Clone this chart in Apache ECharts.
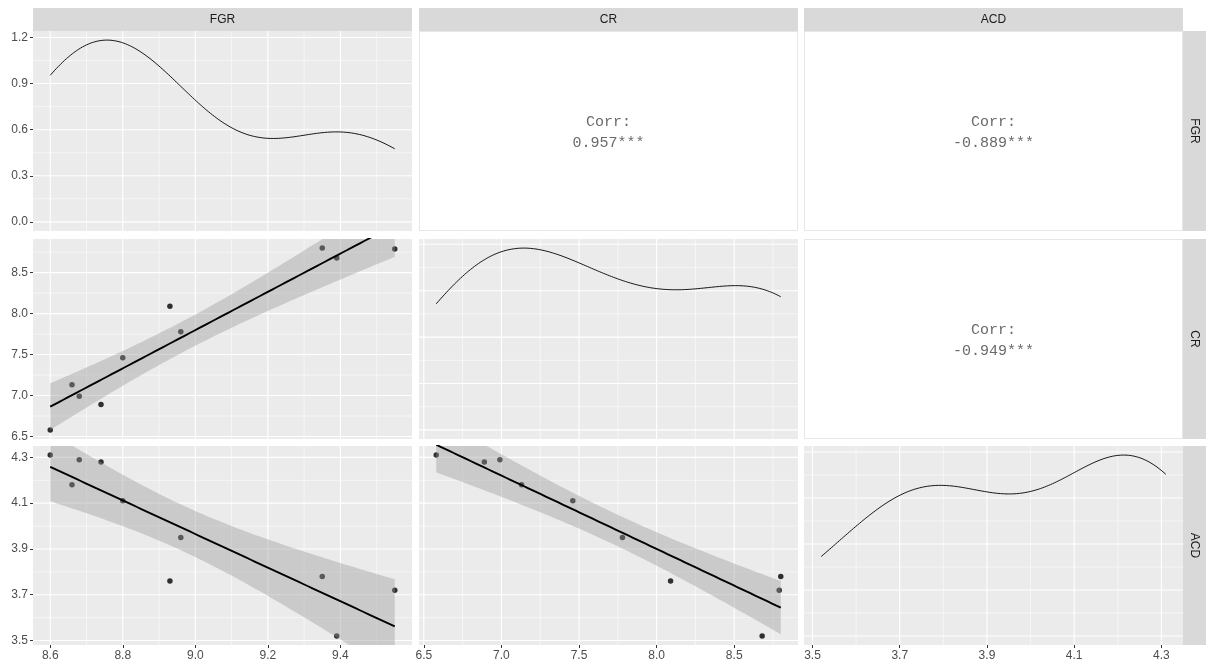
<!DOCTYPE html>
<html>
<head>
<meta charset="utf-8">
<script src="https://cdn.jsdelivr.net/npm/echarts@6/dist/echarts.min.js"></script>
<style>
  html, body { margin: 0; padding: 0; background: #ffffff; }
  #chart { width: 1206px; height: 667px; }
</style>
</head>
<body>
<div id="chart"></div>
<script>
// ---- data -------------------------------------------------------------
const variables = ['FGR', 'CR', 'ACD'];
const FGR = [8.60, 8.66, 8.68, 8.74, 8.80, 8.93, 8.96, 9.35, 9.39, 9.55];
const CR  = [6.58, 7.13, 6.99, 6.89, 7.46, 8.09, 7.78, 8.80, 8.68, 8.79];
const ACD = [4.31, 4.18, 4.29, 4.28, 4.11, 3.76, 3.95, 3.78, 3.52, 3.72];

// correlation labels for the upper triangle: [row, col, text]
const corrLabels = [
  [0, 1, '0.957***'],
  [0, 2, '-0.889***'],
  [1, 2, '-0.949***']
];

// axis breaks for each variable, and density-axis break step per variable
const fgrTicks = [8.6, 8.8, 9.0, 9.2, 9.4];
const crTicks  = [6.5, 7.0, 7.5, 8.0, 8.5];
const acdTicks = [3.5, 3.7, 3.9, 4.1, 4.3];
const densityStep = [0.3, 0.1, 0.3];

const values = [FGR, CR, ACD];
const ticks = [fgrTicks, crTicks, acdTicks];

// ---- statistics --------------------------------------------------------
const mean = a => a.reduce((s, v) => s + v, 0) / a.length;
function sd(a) {
  const m = mean(a);
  return Math.sqrt(a.reduce((s, v) => s + (v - m) * (v - m), 0) / (a.length - 1));
}
function quantile7(a, p) {
  const s = a.slice().sort((x, y) => x - y);
  const h = (s.length - 1) * p;
  const lo = Math.floor(h);
  return s[lo] + (h - lo) * ((s[Math.min(lo + 1, s.length - 1)]) - s[lo]);
}
function bwNrd0(a) {
  const iqr = quantile7(a, 0.75) - quantile7(a, 0.25);
  return 0.9 * Math.min(sd(a), iqr / 1.34) * Math.pow(a.length, -0.2);
}
// Gaussian kernel density over the range of the data
function kde(a, n) {
  const bw = bwNrd0(a);
  const lo = Math.min(...a), hi = Math.max(...a);
  const c = 1 / (bw * Math.sqrt(2 * Math.PI) * a.length);
  const out = [];
  for (let i = 0; i < n; i++) {
    const x = lo + (hi - lo) * i / (n - 1);
    let s = 0;
    for (const v of a) { const z = (x - v) / bw; s += Math.exp(-0.5 * z * z); }
    out.push([x, s * c]);
  }
  return out;
}
// least-squares line with 95% confidence band
const T975_DF8 = 2.306;
function linFit(x, y, n) {
  const mx = mean(x), my = mean(y);
  let sxx = 0, sxy = 0;
  for (let i = 0; i < x.length; i++) { sxx += (x[i] - mx) ** 2; sxy += (x[i] - mx) * (y[i] - my); }
  const b = sxy / sxx, a = my - b * mx;
  let rss = 0;
  for (let i = 0; i < x.length; i++) rss += (y[i] - a - b * x[i]) ** 2;
  const s = Math.sqrt(rss / (x.length - 2));
  const lo = Math.min(...x), hi = Math.max(...x);
  const line = [], upper = [], lower = [];
  for (let i = 0; i < n; i++) {
    const xv = lo + (hi - lo) * i / (n - 1);
    const yv = a + b * xv;
    const se = s * Math.sqrt(1 / x.length + (xv - mx) ** 2 / sxx);
    line.push([xv, yv]);
    upper.push([xv, yv + T975_DF8 * se]);
    lower.push([xv, yv - T975_DF8 * se]);
  }
  return { line, upper, lower };
}
function expandRange(lo, hi) {
  const d = hi - lo;
  return [lo - 0.05 * d, hi + 0.05 * d];
}
function minorBreaks(major, range) {
  const step = major[1] - major[0];
  const out = [];
  for (let v = major[0] - step / 2; v <= major[major.length - 1] + step / 2 + 1e-9; v += step) {
    if (v >= range[0] && v <= range[1]) out.push(+v.toFixed(6));
  }
  return out;
}
function rangeBreaks(step, range) {
  const out = [];
  for (let k = Math.ceil(range[0] / step - 1e-9); k * step <= range[1] + 1e-9; k++) out.push(+(k * step).toFixed(6));
  return out;
}

const varRange = values.map(a => expandRange(Math.min(...a), Math.max(...a)));
const densities = values.map(a => kde(a, 512));

// ---- layout ------------------------------------------------------------
const colLeft = [33, 419, 804];
const colWidth = 379;
const rowTop = [31, 239, 446];
const rowHeight = [200, 200, 199];
const stripSize = 23;

const LABEL_COLOR = '#4D4D4D';
const TEXT_FONT = 'Liberation Sans, Arial, sans-serif';
const MONO_FONT = '"Liberation Mono", "Courier New", monospace';

const grids = [], xAxes = [], yAxes = [], series = [];

function axisCommon(showLabels, tickVals) {
  return {
    type: 'value',
    axisLine: { show: false, onZero: false },
    splitLine: { show: false },
    axisTick: {
      show: showLabels, customValues: tickVals, length: 3,
      lineStyle: { color: '#333333', width: 1 }
    },
    axisLabel: {
      show: showLabels, customValues: tickVals, margin: 5,
      color: LABEL_COLOR, fontSize: 12, fontFamily: TEXT_FONT,
      formatter: v => Number(v).toFixed(1)
    }
  };
}

// lower triangle + diagonal panels
for (let r = 0; r < 3; r++) {
  for (let c = 0; c <= r; c++) {
    const gi = grids.length;
    grids.push({
      left: colLeft[c], top: rowTop[r], width: colWidth, height: rowHeight[r],
      show: true, backgroundColor: '#EBEBEB', borderWidth: 0,
      containLabel: false, outerBoundsMode: 'none'
    });
    const xr = varRange[c];
    let yr, yMajor;
    const xMajor = ticks[c];
    if (r === c) {
      const m = Math.max(...densities[c].map(p => p[1]));
      yr = [-0.05 * m, 1.05 * m];
      yMajor = rangeBreaks(densityStep[c], yr);
    } else {
      yr = varRange[r];
      yMajor = ticks[r];
    }
    const xMinor = minorBreaks(xMajor, xr);
    const yMinor = minorBreaks(yMajor, yr);

    xAxes.push(Object.assign(axisCommon(r === 2, xMajor), {
      gridIndex: gi, min: xr[0], max: xr[1], position: 'bottom'
    }));
    yAxes.push(Object.assign(axisCommon(c === 0, yMajor), {
      gridIndex: gi, min: yr[0], max: yr[1], position: 'left'
    }));

    // panel grid lines, each item: [value, isMinor, isVertical]
    const lines = [];
    xMinor.forEach(v => lines.push([v, 1, 1]));
    yMinor.forEach(v => lines.push([v, 1, 0]));
    xMajor.forEach(v => lines.push([v, 0, 1]));
    yMajor.forEach(v => lines.push([v, 0, 0]));
    series.push({
      type: 'custom', xAxisIndex: gi, yAxisIndex: gi, silent: true, z: 1, clip: false,
      dimensions: ['v', 'minor', 'vertical'],
      encode: { x: -1, y: -1 },
      data: lines,
      renderItem: (params, api) => {
        const v = api.value(0), minor = api.value(1), vertical = api.value(2);
        const p1 = vertical ? api.coord([v, yr[0]]) : api.coord([xr[0], v]);
        const p2 = vertical ? api.coord([v, yr[1]]) : api.coord([xr[1], v]);
        return {
          type: 'line',
          shape: { x1: p1[0], y1: p1[1], x2: p2[0], y2: p2[1] },
          style: { stroke: '#FFFFFF', lineWidth: minor ? 0.55 : 1.1 }
        };
      },
      animation: false
    });

    if (r === c) {
      series.push({
        type: 'line', xAxisIndex: gi, yAxisIndex: gi, z: 3, silent: true,
        data: densities[c], showSymbol: false, symbol: 'none',
        lineStyle: { color: '#000000', width: 0.9 }, animation: false
      });
    } else {
      const xs = values[c], ys = values[r];
      series.push({
        type: 'scatter', xAxisIndex: gi, yAxisIndex: gi, z: 2, silent: true,
        data: xs.map((v, i) => [v, ys[i]]),
        symbolSize: 5.5, itemStyle: { color: '#000000' }, animation: false
      });
      const fit = linFit(xs, ys, 80);
      series.push({
        type: 'custom', xAxisIndex: gi, yAxisIndex: gi, z: 3, silent: true, clip: true,
        data: [fit.line[0]],
        renderItem: (params, api) => {
          const pts = fit.upper.map(p => api.coord(p))
            .concat(fit.lower.slice().reverse().map(p => api.coord(p)));
          return { type: 'polygon', shape: { points: pts }, style: { fill: 'rgba(153,153,153,0.4)' } };
        },
        animation: false
      });
      series.push({
        type: 'line', xAxisIndex: gi, yAxisIndex: gi, z: 4, silent: true, clip: true,
        data: fit.line, showSymbol: false, symbol: 'none',
        lineStyle: { color: '#000000', width: 1.9 }, animation: false
      });
    }
  }
}

// strips, upper-triangle correlation panels
const graphics = [];
variables.forEach((name, i) => {
  graphics.push({
    type: 'rect', shape: { x: colLeft[i], y: rowTop[0] - stripSize, width: colWidth, height: stripSize },
    style: { fill: '#D9D9D9' }, silent: true
  });
  graphics.push({
    type: 'text', x: colLeft[i] + colWidth / 2, y: rowTop[0] - stripSize / 2 + 0.5, silent: true,
    style: { text: name, fill: '#1A1A1A', font: '12px ' + TEXT_FONT, align: 'center', verticalAlign: 'middle' }
  });
  graphics.push({
    type: 'rect', shape: { x: colLeft[2] + colWidth, y: rowTop[i], width: stripSize, height: rowHeight[i] },
    style: { fill: '#D9D9D9' }, silent: true
  });
  graphics.push({
    type: 'text', x: colLeft[2] + colWidth + stripSize / 2, y: rowTop[i] + rowHeight[i] / 2,
    rotation: -Math.PI / 2, silent: true,
    style: { text: name, fill: '#1A1A1A', font: '12px ' + TEXT_FONT, align: 'center', verticalAlign: 'middle' }
  });
});
corrLabels.forEach(([r, c, txt]) => {
  graphics.push({
    type: 'rect', shape: { x: colLeft[c] + 0.5, y: rowTop[r] + 0.5, width: colWidth - 1, height: rowHeight[r] - 1 },
    style: { fill: '#FFFFFF', stroke: '#E6E6E6', lineWidth: 1 }, silent: true
  });
  const cx = colLeft[c] + colWidth / 2, cy = rowTop[r] + rowHeight[r] / 2;
  graphics.push({
    type: 'text', x: cx, y: cy - 8.5, silent: true,
    style: { text: 'Corr:', fill: '#6A6A6A', font: '15px ' + MONO_FONT, align: 'center', verticalAlign: 'middle' }
  });
  graphics.push({
    type: 'text', x: cx, y: cy + 12, silent: true,
    style: { text: txt, fill: '#6A6A6A', font: '15px ' + MONO_FONT, align: 'center', verticalAlign: 'middle' }
  });
});

const chart = echarts.init(document.getElementById('chart'), null, { renderer: 'canvas' });
chart.setOption({
  backgroundColor: '#FFFFFF',
  animation: false,
  grid: grids,
  xAxis: xAxes,
  yAxis: yAxes,
  series: series,
  graphic: graphics
});
</script>
</body>
</html>
